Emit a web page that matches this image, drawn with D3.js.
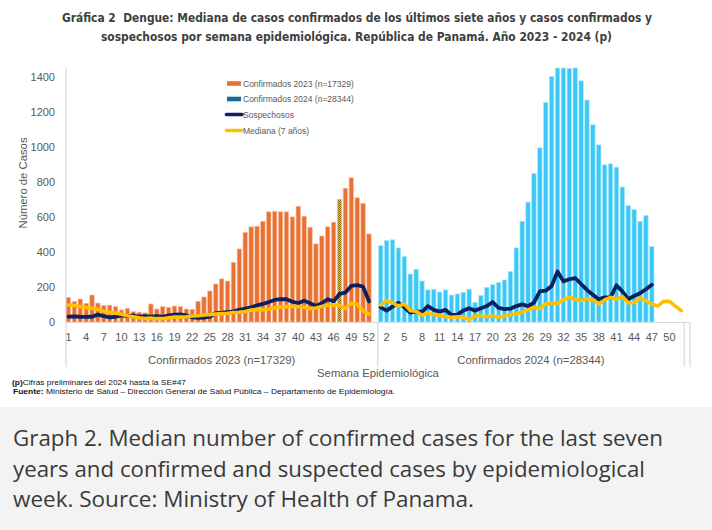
<!DOCTYPE html>
<html><head><meta charset="utf-8">
<script src="https://cdn.jsdelivr.net/npm/d3@7/dist/d3.min.js"></script>
<style>
html,body{margin:0;padding:0;background:#fff;}
svg{display:block;}
</style></head><body>
<svg id="chart" width="712" height="530"></svg>
<script>
// ---------------- DATA ----------------
const weeks2023 = d3.range(1, 54);   // 53 epi-week slots in 2023 (53rd empty)
const weeks2024 = d3.range(1, 53);   // 52 epi-week slots in 2024
const conf2023 = [140,118,131,107,154,108,95,96,88,69,78,59,56,52,103,74,88,84,91,89,
                  74,72,118,143,177,217,246,234,341,417,512,543,547,575,629,632,629,629,600,661,
                  604,541,446,491,543,570,701,764,823,709,678,503];
const conf2024 = [436,465,469,423,375,274,301,234,183,187,171,183,154,160,170,187,112,152,198,213,
                  225,240,288,423,575,684,848,994,1253,1402,1450,1450,1448,1450,1377,1267,1126,1011,897,903,
                  884,771,665,642,573,608,430];
const susp2023 = [30,32,30,29,30,42,34,27,30,38,34,38,30,34,30,34,30,38,42,44,
                  38,27,23,25,30,50,53,57,61,69,76,84,95,103,114,126,130,130,116,107,
                  122,107,91,107,130,118,160,168,206,210,202,118];
const susp2024 = [84,65,88,110,84,53,60,57,91,69,59,69,40,42,65,78,65,78,91,114,
                  80,74,76,91,101,91,110,175,179,206,288,232,244,251,217,183,156,130,141,141,
                  210,175,130,149,164,187,213];
const med2023  = [97,94,88,82,78,72,62,55,50,44,36,30,24,20,22,19,19,24,28,28,
                  30,34,36,40,42,46,48,50,54,56,60,68,72,70,74,80,86,88,90,88,
                  84,76,80,88,96,98,95,78,107,102,64,46];
const med2024  = [97,122,110,91,103,65,61,38,53,42,38,30,27,30,27,15,34,34,30,34,
                  27,34,42,46,57,69,84,76,103,107,107,126,141,130,122,133,126,103,126,141,
                  130,145,110,110,137,122,103,91,118,118,91,65];
const highlightWeek2023 = 47;
const yTicks = [0,200,400,600,800,1000,1200,1400];
const seriesNames = ["Confirmados 2023 (n=17329)","Confirmados 2024 (n=28344)","Sospechosos","Mediana (7 años)"];
const groupLabels = ["Confirmados 2023 (n=17329)","Confirmados 2024 (n=28344)"];
const titleLines = ["Gráfica 2\u00A0 Dengue: Mediana de casos confirmados de los últimos siete años y casos confirmados y",
                    "sospechosos por semana epidemiológica. República de Panamá. Año 2023 - 2024 (p)"];
const captionLines = ["Graph 2. Median number of confirmed cases for the last seven",
                      "years and confirmed and suspected cases by epidemiological",
                      "week. Source: Ministry of Health of Panama."];

// ---------------- BUILD ----------------
const cats = [];
weeks2023.forEach((w,i)=>cats.push({key:"2023-"+w, year:2023, week:w,
  conf: conf2023[i] ?? null, susp: susp2023[i] ?? null, med: med2023[i] ?? null}));
weeks2024.forEach((w,i)=>cats.push({key:"2024-"+w, year:2024, week:w,
  conf: conf2024[i] ?? null, susp: susp2024[i] ?? null, med: med2024[i] ?? null}));

const C = {orange:"#E97132", blue:"#3CC8F6", teal:"#1B6B8C", navy:"#0B2163", yellow:"#FFC000",
           text:"#595959", axis:"#D9D9D9"};

const svg = d3.select("#chart");
const defs = svg.append("defs");
const pat = defs.append("pattern").attr("id","hatch").attr("patternUnits","userSpaceOnUse")
  .attr("width",2).attr("height",2);
pat.append("rect").attr("width",2).attr("height",2).attr("fill",C.yellow);
pat.append("rect").attr("width",1).attr("height",1).attr("fill","#8A6A00");
pat.append("rect").attr("x",1).attr("y",1).attr("width",1).attr("height",1).attr("fill","#8A6A00");

const x = d3.scaleBand().domain(cats.map(d=>d.key)).range([65.5, 684.2])
  .paddingInner(0.25).paddingOuter(0.125);
const y = d3.scaleLinear().domain([0,1450]).range([322, 68]);
const cx = d => x(d.key) + x.bandwidth()/2;

// Title
const title = svg.append("g").attr("font-family","'Liberation Sans Narrow','DejaVu Sans Condensed','Liberation Sans',sans-serif")
  .attr("font-weight","bold").attr("font-size",13).attr("fill","#404040").attr("text-anchor","middle");
title.append("text").attr("x",357).attr("y",22).attr("textLength",590).attr("lengthAdjust","spacingAndGlyphs").text(titleLines[0]);
title.append("text").attr("x",356.5).attr("y",41).attr("textLength",511).attr("lengthAdjust","spacingAndGlyphs").text(titleLines[1]);

// axis lines
svg.append("line").attr("x1",66).attr("x2",66).attr("y1",68).attr("y2",367).attr("stroke",C.axis).attr("stroke-width",1.2);
svg.append("line").attr("x1",66).attr("x2",690).attr("y1",322.5).attr("y2",322.5).attr("stroke",C.axis).attr("stroke-width",1.2);
const sepX = [x("2024-1") - (x.step()-x.bandwidth())/2, 684.2, 690];
svg.selectAll("line.sep").data(sepX).join("line").attr("class","sep")
  .attr("x1",d=>d).attr("x2",d=>d).attr("y1",322).attr("y2",367).attr("stroke",C.axis).attr("stroke-width",1.2);

// Bars
svg.append("g").selectAll("rect").data(cats.filter(d=>d.conf!=null)).join("rect")
  .attr("x",d=>x(d.key)).attr("width",x.bandwidth())
  .attr("y",d=>y(d.conf)).attr("height",d=>y(0)-y(d.conf))
  .attr("fill",d=> d.year===2023 ? (d.week===highlightWeek2023 ? "url(#hatch)" : C.orange) : C.blue)
  .attr("stroke",d=> d.year===2023 ? "#F6BFA2" : "#A8E8FC").attr("stroke-width",0.7);

// Lines
const line = key => d3.line().defined(d=>d[key]!=null).x(cx).y(d=>y(d[key]));
svg.append("path").datum(cats).attr("d",line("susp")).attr("fill","none")
  .attr("stroke",C.navy).attr("stroke-width",3.8).attr("stroke-linejoin","round").attr("stroke-linecap","round");
svg.append("path").datum(cats).attr("d",line("med")).attr("fill","none")
  .attr("stroke",C.yellow).attr("stroke-width",3.6).attr("stroke-linejoin","round").attr("stroke-linecap","round");

// Y axis
const yAxis = svg.append("g").attr("transform","translate(58,0)")
  .call(d3.axisLeft(y).tickValues(yTicks).tickFormat(d3.format("d")).tickSize(0).tickPadding(3));
yAxis.select(".domain").remove();
yAxis.selectAll("text").attr("font-family","'Liberation Sans',Arial,sans-serif").attr("font-size",11).attr("fill",C.text);

svg.append("text").attr("transform","translate(27,183) rotate(-90)").attr("text-anchor","middle")
  .attr("font-family","'Liberation Sans',Arial,sans-serif").attr("font-size",11.3).attr("fill",C.text).text("Número de Casos");

// X axis
const xAxis = svg.append("g").attr("transform","translate(0,322)")
  .call(d3.axisBottom(x).tickValues(cats.filter((d,i)=>i%3===0).map(d=>d.key))
    .tickFormat(k=>k.split("-")[1]).tickSize(0).tickPadding(11.5));
xAxis.select(".domain").remove();
xAxis.selectAll("text").attr("font-family","'Liberation Sans',Arial,sans-serif").attr("font-size",11).attr("fill",C.text);

// group labels
const g23 = cats.filter(d=>d.year===2023), g24 = cats.filter(d=>d.year===2024);
const grpCenters = [ (x(g23[0].key)+x(g23[g23.length-1].key)+x.bandwidth())/2,
                     (x(g24[0].key)+x(g24[g24.length-1].key)+x.bandwidth())/2 ];
svg.selectAll("text.grp").data(groupLabels).join("text").attr("class","grp")
  .attr("x",(d,i)=>grpCenters[i]).attr("y",364).attr("text-anchor","middle")
  .attr("font-family","'Liberation Sans',Arial,sans-serif").attr("font-size",11.3).attr("fill",C.text).text(d=>d);
svg.append("text").attr("x",378).attr("y",376.5).attr("text-anchor","middle")
  .attr("font-family","'Liberation Sans',Arial,sans-serif").attr("font-size",11.3).attr("fill",C.text).text("Semana Epidemiológica");

// Legend
const leg = svg.append("g").attr("font-family","'Liberation Sans',Arial,sans-serif").attr("font-size",8.5).attr("fill",C.text);
const legY = [83.5, 99, 114.5, 130.5];
const legCol = [C.orange, C.teal, C.navy, C.yellow];
seriesNames.forEach((n,i)=>{
  if(i<2) leg.append("rect").attr("x",227).attr("y",legY[i]-2.3).attr("width",14).attr("height",4.6).attr("fill",legCol[i]);
  else leg.append("line").attr("x1",226.5).attr("x2",242).attr("y1",legY[i]).attr("y2",legY[i])
        .attr("stroke",legCol[i]).attr("stroke-width",3.6).attr("stroke-linecap","round");
  leg.append("text").attr("x",243).attr("y",legY[i]+3).text(n);
});

// Footnotes
const fn = svg.append("g").attr("font-family","'Liberation Sans',Arial,sans-serif").attr("font-size",7.6).attr("fill","#111");
const f1 = fn.append("text").attr("x",12).attr("y",384.5).attr("textLength",174).attr("lengthAdjust","spacingAndGlyphs");
f1.append("tspan").attr("font-weight","bold").text("(p)");
f1.append("tspan").text("Cifras preliminares del 2024 hasta la SE#47");
const f2 = fn.append("text").attr("x",13).attr("y",394).attr("textLength",382).attr("lengthAdjust","spacingAndGlyphs");
f2.append("tspan").attr("font-weight","bold").text("Fuente:");
f2.append("tspan").text(" Ministerio de Salud – Dirección General de Salud Pública – Departamento de Epidemiología.");

// Caption box
svg.append("rect").attr("x",0).attr("y",407).attr("width",712).attr("height",123).attr("fill","#F3F3F3");
const capW = [650, 632, 461];
const cap = svg.append("g").attr("font-family","'Open Sans','Noto Sans',sans-serif").attr("font-size",22)
  .attr("fill","#3a3a3a");
captionLines.forEach((t,i)=>{
  cap.append("text").attr("x",13).attr("y",446+i*30.7).attr("textLength",capW[i]).attr("lengthAdjust","spacingAndGlyphs").text(t);
});
</script>
</body></html>
